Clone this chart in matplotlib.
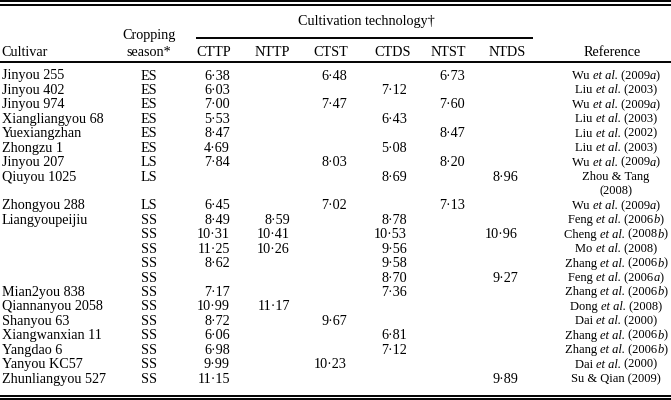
import matplotlib
matplotlib.use("Agg")
import matplotlib.pyplot as plt

plt.rcParams['font.family'] = ['Liberation Serif', 'DejaVu Serif']

# table data (text between * is italic)
cultivars = ["Jinyou 255", "Jinyou 402", "Jinyou 974", "Xiangliangyou 68", "Yuexiangzhan",
             "Zhongzu 1", "Jinyou 207", "Qiuyou 1025", "Zhongyou 288", "Liangyoupeijiu",
             "", "", "", "", "Mian2you 838", "Qiannanyou 2058", "Shanyou 63",
             "Xiangwanxian 11", "Yangdao 6", "Yanyou KC57", "Zhunliangyou 527"]
seasons = ["ES", "ES", "ES", "ES", "ES", "ES", "LS", "LS", "LS", "SS",
           "SS", "SS", "SS", "SS", "SS", "SS", "SS", "SS", "SS", "SS", "SS"]
tech_cols = ["CTTP", "NTTP", "CTST", "CTDS", "NTST", "NTDS"]
N = None
cttp = [6.38, 6.03, 7.00, 5.53, 8.47, 4.69, 7.84, N, 6.45, 8.49, 10.31, 11.25, 8.62, N,
        7.17, 10.99, 8.72, 6.06, 6.98, 9.99, 11.15]
nttp = [N, N, N, N, N, N, N, N, N, 8.59, 10.41, 10.26, N, N, N, 11.17, N, N, N, N, N]
ctst = [6.48, N, 7.47, N, N, N, 8.03, N, 7.02, N, N, N, N, N, N, N, 9.67, N, N, 10.23, N]
ctds = [N, 7.12, N, 6.43, N, 5.08, N, 8.69, N, 8.78, 10.53, 9.56, 9.58, 8.70, 7.36, N, N,
        6.81, 7.12, N, N]
ntst = [6.73, N, 7.60, N, 8.47, N, 8.20, N, 7.13, N, N, N, N, N, N, N, N, N, N, N, N]
ntds = [N, N, N, N, N, N, N, 8.96, N, N, 10.96, N, N, 9.27, N, N, N, N, N, N, 9.89]
references = ["Wu *et al.* (2009*a*)", "Liu *et al.* (2003)", "Wu *et al.* (2009*a*)",
              "Liu *et al.* (2003)", "Liu *et al.* (2002)", "Liu *et al.* (2003)",
              "Wu *et al.* (2009*a*)", "Zhou & Tang\n(2008)", "Wu *et al.* (2009*a*)",
              "Feng *et al.* (2006*b*)", "Cheng *et al.* (2008*b*)", "Mo *et al.* (2008)",
              "Zhang *et al.* (2006*b*)", "Feng *et al.* (2006*a*)", "Zhang *et al.* (2006*b*)",
              "Dong *et al.* (2008)", "Dai *et al.* (2000)", "Zhang *et al.* (2006*b*)",
              "Zhang *et al.* (2006*b*)", "Dai *et al.* (2000)", "Su & Qian (2009)"]
columns = [cttp, nttp, ctst, ctds, ntst, ntds]

fs = 10.2
fs_ref = 9.0
fig = plt.figure(figsize=(6.71, 4.0), dpi=100)
ax = fig.add_axes([0, 0, 1, 1])
ax.set_xlim(0, 671)
ax.set_ylim(400, 0)
ax.axis('off')
renderer = fig.canvas.get_renderer()


def rich_text(xc, y, s, size):
    # draw a string with *italic* parts, centred at xc
    parts = s.split('*')
    items = []
    total = 0
    for k, p in enumerate(parts):
        if not p:
            continue
        t = ax.text(0, y, p.replace(' ', '\u00a0'), ha='left', va='center', fontsize=size,
                    style='italic' if k % 2 else 'normal')
        w = t.get_window_extent(renderer).width
        items.append((t, w))
        total += w
    x = xc - total / 2
    for t, w in items:
        t.set_x(x)
        x += w


# rules
lw = 1.4
for y in [1.2, 5.2, 62, 395.5, 399.3]:
    ax.plot([0, 671], [y, y], color='black', lw=lw, solid_capstyle='butt')
ax.plot([196, 533], [37.5, 37.5], color='black', lw=lw, solid_capstyle='butt')

# header
ax.text(366, 21, "Cultivation technology\u2020", ha='center', va='center', fontsize=fs)
ax.text(1, 52, "Cultivar", ha='left', va='center', fontsize=fs)
ax.text(149, 36, "Cropping", ha='center', va='center', fontsize=fs)
ax.text(149, 52, "season*", ha='center', va='center', fontsize=fs)
head_x = [214, 272, 331, 393, 448, 507]
for x, name in zip(head_x, tech_cols):
    ax.text(x, 52, name, ha='center', va='center', fontsize=fs)
ax.text(612, 52, "Reference", ha='center', va='center', fontsize=fs)

# body
right_x = [230, 290, 347, 407, 465, 518]
y0, dy = 76, 14.43
for i in range(len(cultivars)):
    line = i if i <= 7 else i + 1
    y = y0 + line * dy
    ax.text(2, y, cultivars[i], ha='left', va='center', fontsize=fs)
    ax.text(149, y, seasons[i], ha='center', va='center', fontsize=fs)
    for x, col in zip(right_x, columns):
        v = col[i]
        if v is not None:
            ax.text(x, y, f"{v:.2f}".replace('.', '\u00b7'), ha='right', va='center', fontsize=fs)
    for j, ref in enumerate(references[i].split("\n")):
        rich_text(616, y + j * dy, ref, fs_ref)

fig.savefig("out.png", dpi=100)
